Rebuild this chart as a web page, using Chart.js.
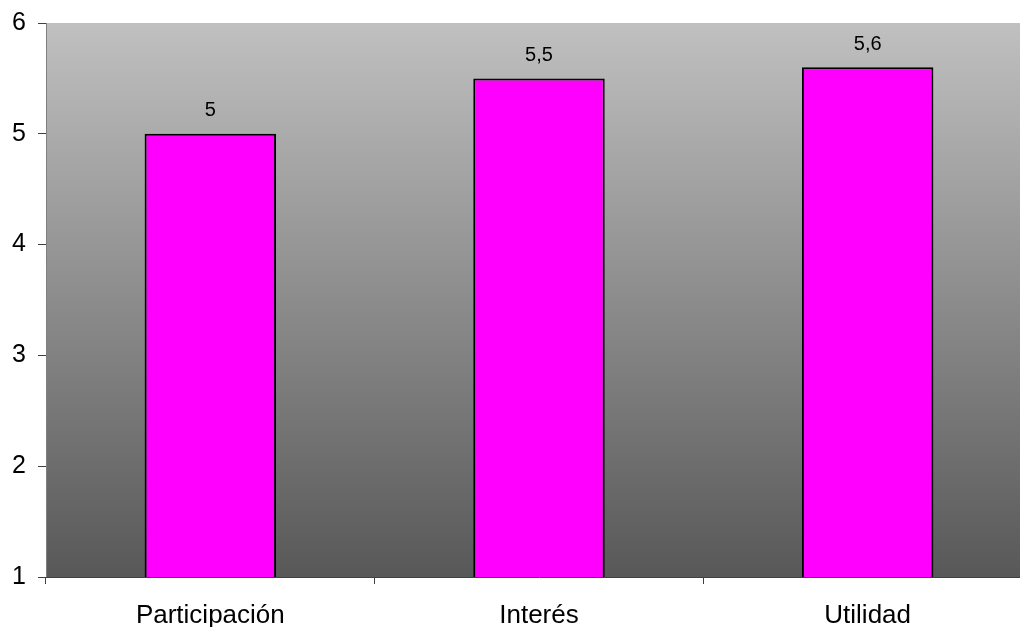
<!DOCTYPE html>
<html>
<head>
<meta charset="utf-8">
<script src="https://cdn.jsdelivr.net/npm/chart.js@4"></script>
<style>
  html, body { margin: 0; padding: 0; background: #fff; overflow: hidden; }
  #wrap { width: 1032px; height: 627px; }
</style>
</head>
<body>
<div id="wrap"><canvas id="chart" width="1032" height="627"></canvas></div>
<script>
// ── Data ──────────────────────────────────────────────
const categories = ["Participación", "Interés", "Utilidad"];
const values     = [5, 5.5, 5.6];
const yTicks     = [1, 2, 3, 4, 5, 6];

// ── Plot background: grey vertical gradient ───────────
const bgGradient = {
  id: "bgGradient",
  beforeDraw(chart) {
    const { ctx, chartArea: a } = chart;
    const g = ctx.createLinearGradient(0, a.top, 0, a.bottom);
    g.addColorStop(0, "#c0c0c0");
    g.addColorStop(1, "#585858");
    ctx.save();
    ctx.fillStyle = g;
    ctx.fillRect(a.left, a.top, a.right - a.left, a.bottom - a.top);
    ctx.restore();
  }
};

// ── Value labels above bars (decimal comma) ───────────
const valueLabels = {
  id: "valueLabels",
  afterDatasetsDraw(chart) {
    const { ctx } = chart;
    const meta = chart.getDatasetMeta(0);
    ctx.save();
    ctx.font = "20px 'Liberation Sans', Arial, sans-serif";
    ctx.fillStyle = "#000";
    ctx.textAlign = "center";
    ctx.textBaseline = "middle";
    meta.data.forEach((bar, i) => {
      ctx.fillText(String(values[i]).replace(".", ","), bar.x, bar.y - 23);
    });
    ctx.restore();
  }
};

new Chart(document.getElementById("chart"), {
  type: "bar",
  data: {
    labels: categories,
    datasets: [{
      data: values,
      backgroundColor: "#ff00ff",
      borderColor: "#000",
      borderWidth: 2,
      borderSkipped: false,
      barPercentage: 0.4,
      categoryPercentage: 1
    }]
  },
  options: {
    responsive: false,
    animation: false,
    layout: { padding: { top: 23, right: 0, left: 0, bottom: 0 } },
    plugins: { legend: { display: false }, tooltip: { enabled: false } },
    scales: {
      y: {
        min: yTicks[0],
        max: yTicks[yTicks.length - 1],
        afterBuildTicks(scale) { scale.ticks = yTicks.map(v => ({ value: v })); },
        afterFit(scale) {
          scale.width = 46;
          scale.paddingTop = 0;
          scale.paddingBottom = 0;
        },
        ticks: { color: "#000", font: { family: "'Liberation Sans', Arial", size: 25 }, padding: 12 },
        grid: { drawOnChartArea: false, tickLength: 8, color: "#404040" },
        border: { color: "#808080", width: 1 }
      },
      x: {
        afterFit(scale) {
          scale.height = 50;
          scale.paddingLeft = 0;
          scale.paddingRight = 0;
        },
        ticks: { color: "#000", font: { family: "'Liberation Sans', Arial", size: 26 }, padding: 16 },
        grid: { offset: true, drawOnChartArea: false, tickLength: 7, color: "#404040" },
        border: { color: "#404040", width: 1 }
      }
    }
  },
  plugins: [bgGradient, valueLabels]
});
</script>
</body>
</html>
